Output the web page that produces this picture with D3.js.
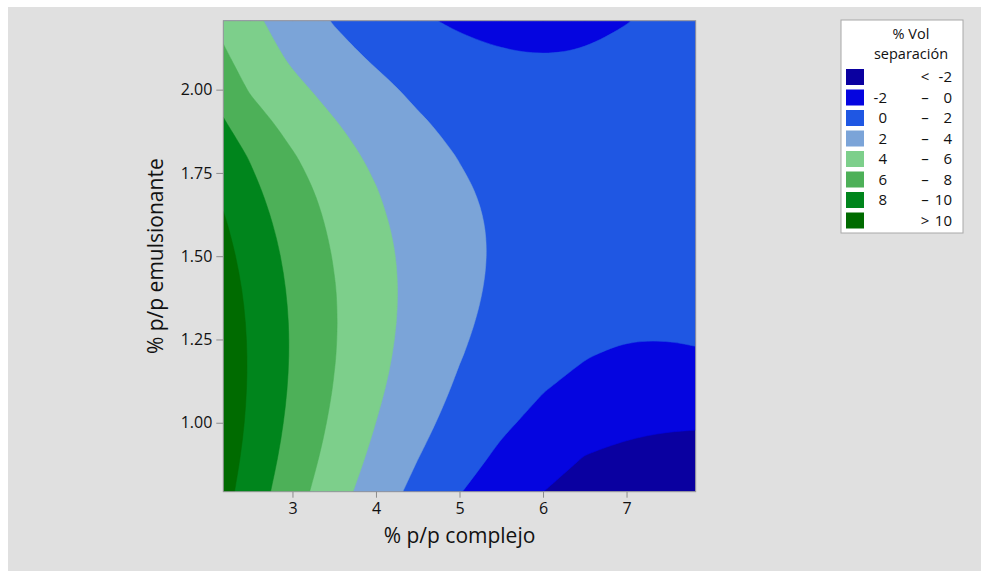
<!DOCTYPE html>
<html>
<head>
<meta charset="utf-8">
<script src="https://cdn.jsdelivr.net/npm/d3@7"></script>
<style>
  body { margin: 0; background: #ffffff; }
  text { font-family: "Open Sans", "Noto Sans", sans-serif; fill: #111111; }
</style>
</head>
<body>
<div id="chart"></div>
<script>
// grid of % Vol separación values
var xGrid = [2.172, 2.5, 3, 3.5, 4, 4.5, 5, 5.5, 6, 6.5, 7, 7.5, 7.828];
var yGrid = [0.793, 0.9, 1.0, 1.1, 1.2, 1.3, 1.4, 1.5, 1.6, 1.7, 1.8, 1.9, 2.0, 2.1, 2.207];

// one row per yGrid value (bottom to top), one column per xGrid value
var zRows = [
  [10.65, 9.06, 6.83, 4.81, 3.01, 1.44, 0.08, -1.07, -1.99, -2.69, -3.17, -3.44, -3.50],
  [10.97, 9.43, 7.26, 5.31, 3.57, 2.06, 0.77, -0.31, -1.20, -2.02, -2.45, -2.60, -2.62],
  [11.16, 9.66, 7.55, 5.66, 3.99, 2.54, 1.31, 0.29, -0.50, -1.10, -1.55, -1.78, -1.82],
  [11.25, 9.79, 7.75, 5.92, 4.31, 2.92, 1.74, 0.79, 0.06, -0.46, -0.76, -0.84, -0.77],
  [11.24, 9.82, 7.84, 6.07, 4.52, 3.19, 2.08, 1.19, 0.51, 0.06, -0.25, -0.30, -0.20],
  [11.13, 9.75, 7.83, 6.12, 4.63, 3.36, 2.31, 1.48, 0.87, 0.47, 0.30, 0.34, 0.49],
  [10.92, 9.58, 7.71, 6.07, 4.64, 3.43, 2.44, 1.67, 1.12, 0.79, 0.67, 0.78, 0.97],
  [10.60, 9.30, 7.50, 5.91, 4.55, 3.40, 2.47, 1.76, 1.27, 1.00, 0.95, 1.11, 1.34],
  [10.18, 8.92, 7.18, 5.65, 4.35, 3.26, 2.40, 1.75, 1.32, 1.11, 1.11, 1.34, 1.61],
  [9.66, 8.44, 6.76, 5.29, 4.05, 3.02, 2.22, 1.63, 1.26, 1.11, 1.18, 1.47, 1.78],
  [9.03, 7.85, 6.15, 4.78, 3.62, 2.68, 1.94, 1.41, 1.11, 1.02, 1.15, 1.49, 1.84],
  [8.15, 6.90, 5.30, 4.10, 3.05, 2.20, 1.55, 1.09, 0.85, 0.82, 1.01, 1.42, 1.81],
  [7.30, 5.80, 4.45, 3.40, 2.45, 1.65, 1.07, 0.67, 0.48, 0.52, 0.77, 1.24, 1.67],
  [6.30, 5.00, 3.70, 2.55, 1.75, 1.00, 0.49, 0.14, 0.02, 0.11, 0.43, 0.96, 1.42],
  [5.44, 4.42, 3.05, 1.89, 0.96, 0.24, -0.26, -0.53, -0.59, -0.43, -0.06, 0.54, 1.05]
];

// contour levels and their band colours (lowest band first)
var levels = [-2, 0, 2, 4, 6, 8, 10];
var bandColors = ["#0a00a0", "#0505e0", "#1f57e3", "#7ba4d8", "#7dcf8b", "#4db058", "#00851c", "#006b00"];

var xTicks = [3, 4, 5, 6, 7];
var yTicks = [1.00, 1.25, 1.50, 1.75, 2.00];

var legendLow = ["", "-2", "0", "2", "4", "6", "8", ""];
var legendSep = ["<", "\u2013", "\u2013", "\u2013", "\u2013", "\u2013", "\u2013", ">"];
var legendHigh = ["-2", "0", "2", "4", "6", "8", "10", "10"];

var svgWidth = 981, svgHeight = 574;
var plot = { left: 223.3, right: 695.7, top: 20.7, bottom: 491.7 };

var svg = d3.select("#chart").append("svg")
  .attr("width", svgWidth)
  .attr("height", svgHeight);

// gray page background
svg.append("rect")
  .attr("x", 8).attr("y", 7)
  .attr("width", svgWidth - 8).attr("height", svgHeight - 10)
  .attr("fill", "#e0e0e0");

var x = d3.scaleLinear().domain([xGrid[0], xGrid[xGrid.length - 1]]).range([plot.left, plot.right]);
var y = d3.scaleLinear().domain([yGrid[0], yGrid[yGrid.length - 1]]).range([plot.bottom, plot.top]);

// grid index -> data value (grid is not evenly spaced at the ends)
var ix = d3.scaleLinear().domain(d3.range(xGrid.length)).range(xGrid).clamp(true);
var iy = d3.scaleLinear().domain(d3.range(yGrid.length)).range(yGrid).clamp(true);

var values = [];
zRows.forEach(function(row) { row.forEach(function(v) { values.push(v); }); });

var contours = d3.contours()
  .size([xGrid.length, yGrid.length])
  .thresholds(levels)(values);

var smoothLine = d3.line().curve(d3.curveBasisClosed);

function onFrame(p) {
  return Math.abs(p[0] - plot.left) < 0.5 || Math.abs(p[0] - plot.right) < 0.5 ||
         Math.abs(p[1] - plot.top) < 0.5 || Math.abs(p[1] - plot.bottom) < 0.5;
}

// ring in grid coords -> smooth closed path in pixels
function ringPath(ring) {
  var pts = [];
  ring.forEach(function(p) {
    var q = [x(ix(p[0] - 0.5)), y(iy(p[1] - 0.5))];
    var last = pts[pts.length - 1];
    if (last && Math.abs(last[0] - q[0]) < 0.01 && Math.abs(last[1] - q[1]) < 0.01) return;
    pts.push(q);
  });
  var first = pts[0], end = pts[pts.length - 1];
  if (pts.length > 1 && Math.abs(first[0] - end[0]) < 0.01 && Math.abs(first[1] - end[1]) < 0.01) pts.pop();
  // frame points are tripled so the spline runs straight along the frame
  var out = [];
  pts.forEach(function(p) {
    out.push(p);
    if (onFrame(p)) { out.push([p[0], p[1]]); out.push([p[0], p[1]]); }
  });
  return smoothLine(out);
}

function contourPath(c) {
  var d = "";
  c.coordinates.forEach(function(polygon) {
    polygon.forEach(function(ring) { d += ringPath(ring); });
  });
  return d;
}

svg.append("clipPath").attr("id", "plotClip")
  .append("rect")
  .attr("x", plot.left).attr("y", plot.top)
  .attr("width", plot.right - plot.left).attr("height", plot.bottom - plot.top);

var plotArea = svg.append("g").attr("clip-path", "url(#plotClip)");

// lowest band fills the whole area, the rest stack on top
plotArea.append("rect")
  .attr("x", plot.left).attr("y", plot.top)
  .attr("width", plot.right - plot.left).attr("height", plot.bottom - plot.top)
  .attr("fill", bandColors[0]);

plotArea.selectAll("path.band")
  .data(contours)
  .enter()
  .append("path")
  .attr("class", "band")
  .attr("d", contourPath)
  .attr("fill-rule", "evenodd")
  .attr("fill", function(d, i) { return bandColors[i + 1]; })
  .attr("stroke", function(d, i) { return bandColors[i + 1]; })
  .attr("stroke-width", 0.5);

// frame
svg.append("rect")
  .attr("x", plot.left).attr("y", plot.top)
  .attr("width", plot.right - plot.left).attr("height", plot.bottom - plot.top)
  .attr("fill", "none")
  .attr("stroke", "#9a9a9a");

// axes
var xAxis = svg.append("g")
  .attr("transform", `translate(0, ${plot.bottom})`)
  .call(d3.axisBottom(x).tickValues(xTicks).tickSize(6).tickPadding(5).tickFormat(d3.format("d")));

var yAxis = svg.append("g")
  .attr("transform", `translate(${plot.left}, 0)`)
  .call(d3.axisLeft(y).tickValues(yTicks).tickSize(7).tickPadding(4).tickFormat(d3.format(".2f")));

[xAxis, yAxis].forEach(function(ax) {
  ax.select(".domain").remove();
  ax.selectAll(".tick line").attr("stroke", "#8c8c8c");
  ax.selectAll(".tick text")
    .style("font-size", "16px")
    .style("font-family", "'Open Sans', 'Noto Sans', sans-serif")
    .attr("fill", "#111111");
});

// axis titles
svg.append("text")
  .attr("x", (plot.left + plot.right) / 2)
  .attr("y", 543)
  .attr("text-anchor", "middle")
  .style("font-size", "21px")
  .text("% p/p complejo");

svg.append("text")
  .attr("transform", `translate(163, ${(plot.top + plot.bottom) / 2}) rotate(-90)`)
  .attr("text-anchor", "middle")
  .style("font-size", "21px")
  .text("% p/p emulsionante");

// legend
var legend = svg.append("g");
legend.append("rect")
  .attr("x", 841).attr("y", 20)
  .attr("width", 122).attr("height", 213)
  .attr("fill", "#ffffff")
  .attr("stroke", "#a8a8a8");

legend.append("text")
  .attr("x", 911).attr("y", 39)
  .attr("text-anchor", "middle")
  .style("font-size", "14.5px")
  .text("% Vol");
legend.append("text")
  .attr("x", 911).attr("y", 59)
  .attr("text-anchor", "middle")
  .style("font-size", "14.5px")
  .text("separación");

var rows = legend.selectAll("g.row")
  .data(bandColors)
  .enter()
  .append("g")
  .attr("class", "row")
  .attr("transform", function(d, i) { return `translate(0, ${69 + i * 20.5})`; });

rows.append("rect")
  .attr("x", 846).attr("y", 0)
  .attr("width", 18).attr("height", 16)
  .attr("fill", function(d) { return d; });

rows.append("text")
  .attr("x", 887).attr("y", 8).attr("dy", "0.35em")
  .attr("text-anchor", "end")
  .style("font-size", "15px")
  .text(function(d, i) { return legendLow[i]; });

rows.append("text")
  .attr("x", 925).attr("y", 8).attr("dy", "0.35em")
  .attr("text-anchor", "middle")
  .style("font-size", "15px")
  .text(function(d, i) { return legendSep[i]; });

rows.append("text")
  .attr("x", 952).attr("y", 8).attr("dy", "0.35em")
  .attr("text-anchor", "end")
  .style("font-size", "15px")
  .text(function(d, i) { return legendHigh[i]; });
</script>
</body>
</html>
